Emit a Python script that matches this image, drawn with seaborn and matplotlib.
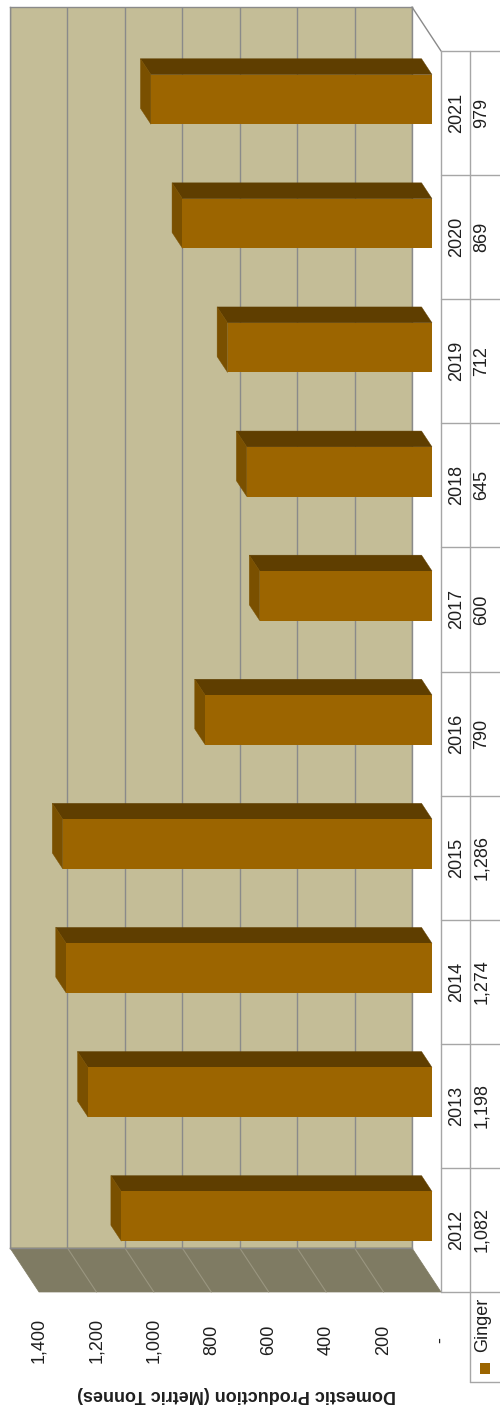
import matplotlib
matplotlib.use("Agg")
import numpy as np
import pandas as pd
import matplotlib.pyplot as plt
import seaborn as sns
from matplotlib.patches import Polygon, Rectangle
from matplotlib.lines import Line2D
from matplotlib.transforms import Affine2D, blended_transform_factory

# ---------------- data ----------------
years = ["2012", "2013", "2014", "2015", "2016", "2017", "2018", "2019", "2020", "2021"]
production = [1082, 1198, 1274, 1286, 790, 600, 645, 712, 869, 979]
value_labels = ["1,082", "1,198", "1,274", "1,286", "790", "600", "645", "712", "869", "979"]
tick_values = [0, 200, 400, 600, 800, 1000, 1200, 1400]
tick_labels = ["-", "200", "400", "600", "800", "1,000", "1,200", "1,400"]
series_name = "Ginger"
axis_title = "Domestic Production (Metric Tonnes)"

# ---------------- style ----------------
sns.set_style("white")
plt.rcParams["font.family"] = ["Liberation Sans", "DejaVu Sans"]

WALL = "#C4BD97"
GRID = "#8A8A8A"
FLOOR = "#7F7B63"
FLOOR_LINE = "#9A9680"
FRONT = "#9C6500"
TOPFACE = "#5F3E00"
ENDFACE = "#7A5000"
TABLE = "#A6A6A6"
TXT = "#1F1F1F"

W, H = 500, 1405
fig = plt.figure(figsize=(W / 100, H / 100), dpi=100)
fig.patch.set_facecolor("white")

# back wall (pixel frame)
wl, wr, wt, wb = 10, 412, 7, 1248
ax = fig.add_axes([wl / W, 1 - wb / H, (wr - wl) / W, (wb - wt) / H])
ax.set_facecolor(WALL)

VMAX = 1400
NCAT = len(years)
BAR_W = 0.40
D0, D1 = 0.33, 0.69  # depth range of the bars (0 = back wall, 1 = front)
DEPTH_PX = (29, 44)  # full depth offset in pixels (right, down)

df = pd.DataFrame({"Year": years, "Production": production})
sns.barplot(data=df, x="Production", y="Year", order=years, orient="h",
            color=FRONT, saturation=1, width=BAR_W, linewidth=0, ax=ax)

ax.set_xlim(VMAX, 0)
ax.set_ylim(-0.5, NCAT - 0.5)
DX = -DEPTH_PX[0] * VMAX / (wr - wl)
DY = -DEPTH_PX[1] * NCAT / (wb - wt)

ax.set_xticks(tick_values)
ax.grid(axis="x", color=GRID, lw=1)
ax.grid(axis="y", visible=False)
ax.set_axisbelow(True)
ax.tick_params(length=0, labelbottom=False, labelleft=False)
ax.set_xlabel("")
ax.set_ylabel("")
for s in ax.spines.values():
    s.set_color(GRID)
    s.set_linewidth(1)

# floor / side wall
ax.add_patch(Polygon([(VMAX, -0.5), (0, -0.5), (DX, -0.5 + DY), (VMAX + DX, -0.5 + DY)],
                     closed=True, facecolor=FLOOR, edgecolor=FLOOR, lw=0.5,
                     clip_on=False, zorder=2))
for v in tick_values[1:-1]:
    ax.add_line(Line2D([v, v + DX], [-0.5, -0.5 + DY], color=FLOOR_LINE, lw=0.8,
                       clip_on=False, zorder=2.5))
# top edge of side
ax.add_line(Line2D([0, DX], [NCAT - 0.5, NCAT - 0.5 + DY], color=GRID, lw=1,
                   clip_on=False, zorder=2.5))

# 3D bars
front_tr = Affine2D().translate(D1 * DX, D1 * DY) + ax.transData
for p in ax.patches[:]:
    if not isinstance(p, Rectangle) or p.get_height() == 0:
        continue
    v = p.get_width()
    yb = p.get_y()
    yt = yb + p.get_height()
    p.set_transform(front_tr)
    p.set_clip_on(False)
    p.set_zorder(6)
    top = Polygon([(0 + D0 * DX, yt + D0 * DY), (v + D0 * DX, yt + D0 * DY),
                   (v + D1 * DX, yt + D1 * DY), (0 + D1 * DX, yt + D1 * DY)],
                  closed=True, facecolor=TOPFACE, edgecolor=TOPFACE, lw=0.3,
                  clip_on=False, zorder=5)
    end = Polygon([(v + D0 * DX, yt + D0 * DY), (v + D0 * DX, yb + D0 * DY),
                   (v + D1 * DX, yb + D1 * DY), (v + D1 * DX, yt + D1 * DY)],
                  closed=True, facecolor=ENDFACE, edgecolor=ENDFACE, lw=0.3,
                  clip_on=False, zorder=5)
    ax.add_patch(top)
    ax.add_patch(end)

# value-axis tick labels (front plane, below the floor)
tr_tick = blended_transform_factory(ax.transData, fig.transFigure)
for v, lab in zip(tick_values, tick_labels):
    ax.text(v + DX, 1 - 1340 / H, lab, transform=tr_tick, rotation=90,
            ha="center", va="center", fontsize=13, color=TXT, clip_on=False)

# axis title (upside down)
fig.text(237 / W, 1 - 1395 / H, axis_title, rotation=180, ha="center", va="center",
         fontsize=13, fontweight="bold", color=TXT)

# data table
tr_tab = blended_transform_factory(fig.transFigure, ax.transData)
x_front = 441 / W
x_mid = 470 / W
for i, (yr, lab) in enumerate(zip(years, value_labels)):
    ax.text(457 / W, i + DY, yr, transform=tr_tab, rotation=90, ha="center",
            va="center", fontsize=13, color=TXT, clip_on=False)
    ax.text(482 / W, i + DY, lab, transform=tr_tab, rotation=90, ha="center",
            va="center", fontsize=13, color=TXT, clip_on=False)
for k in range(NCAT + 1):
    ax.add_line(Line2D([x_front, 1.0], [k - 0.5 + DY] * 2, transform=tr_tab,
                       color=TABLE, lw=1, clip_on=False, zorder=3))
for xx in (x_front, x_mid):
    ax.add_line(Line2D([xx, xx], [-0.5 + DY, NCAT - 0.5 + DY], transform=tr_tab,
                       color=TABLE, lw=1, clip_on=False, zorder=3))
# legend cell
fig.add_artist(Line2D([x_mid, x_mid], [1 - 1292 / H, 1 - 1382 / H], color=TABLE, lw=1))
fig.add_artist(Line2D([x_mid, 1.0], [1 - 1382 / H, 1 - 1382 / H], color=TABLE, lw=1))
fig.add_artist(Rectangle((480 / W, 1 - 1374 / H), 10 / W, 11 / H, facecolor=FRONT,
                         edgecolor="none", transform=fig.transFigure))
fig.text(483 / W, 1 - 1325 / H, series_name, rotation=90, ha="center", va="center",
         fontsize=13, color=TXT)

fig.savefig("out.png", dpi=100)
